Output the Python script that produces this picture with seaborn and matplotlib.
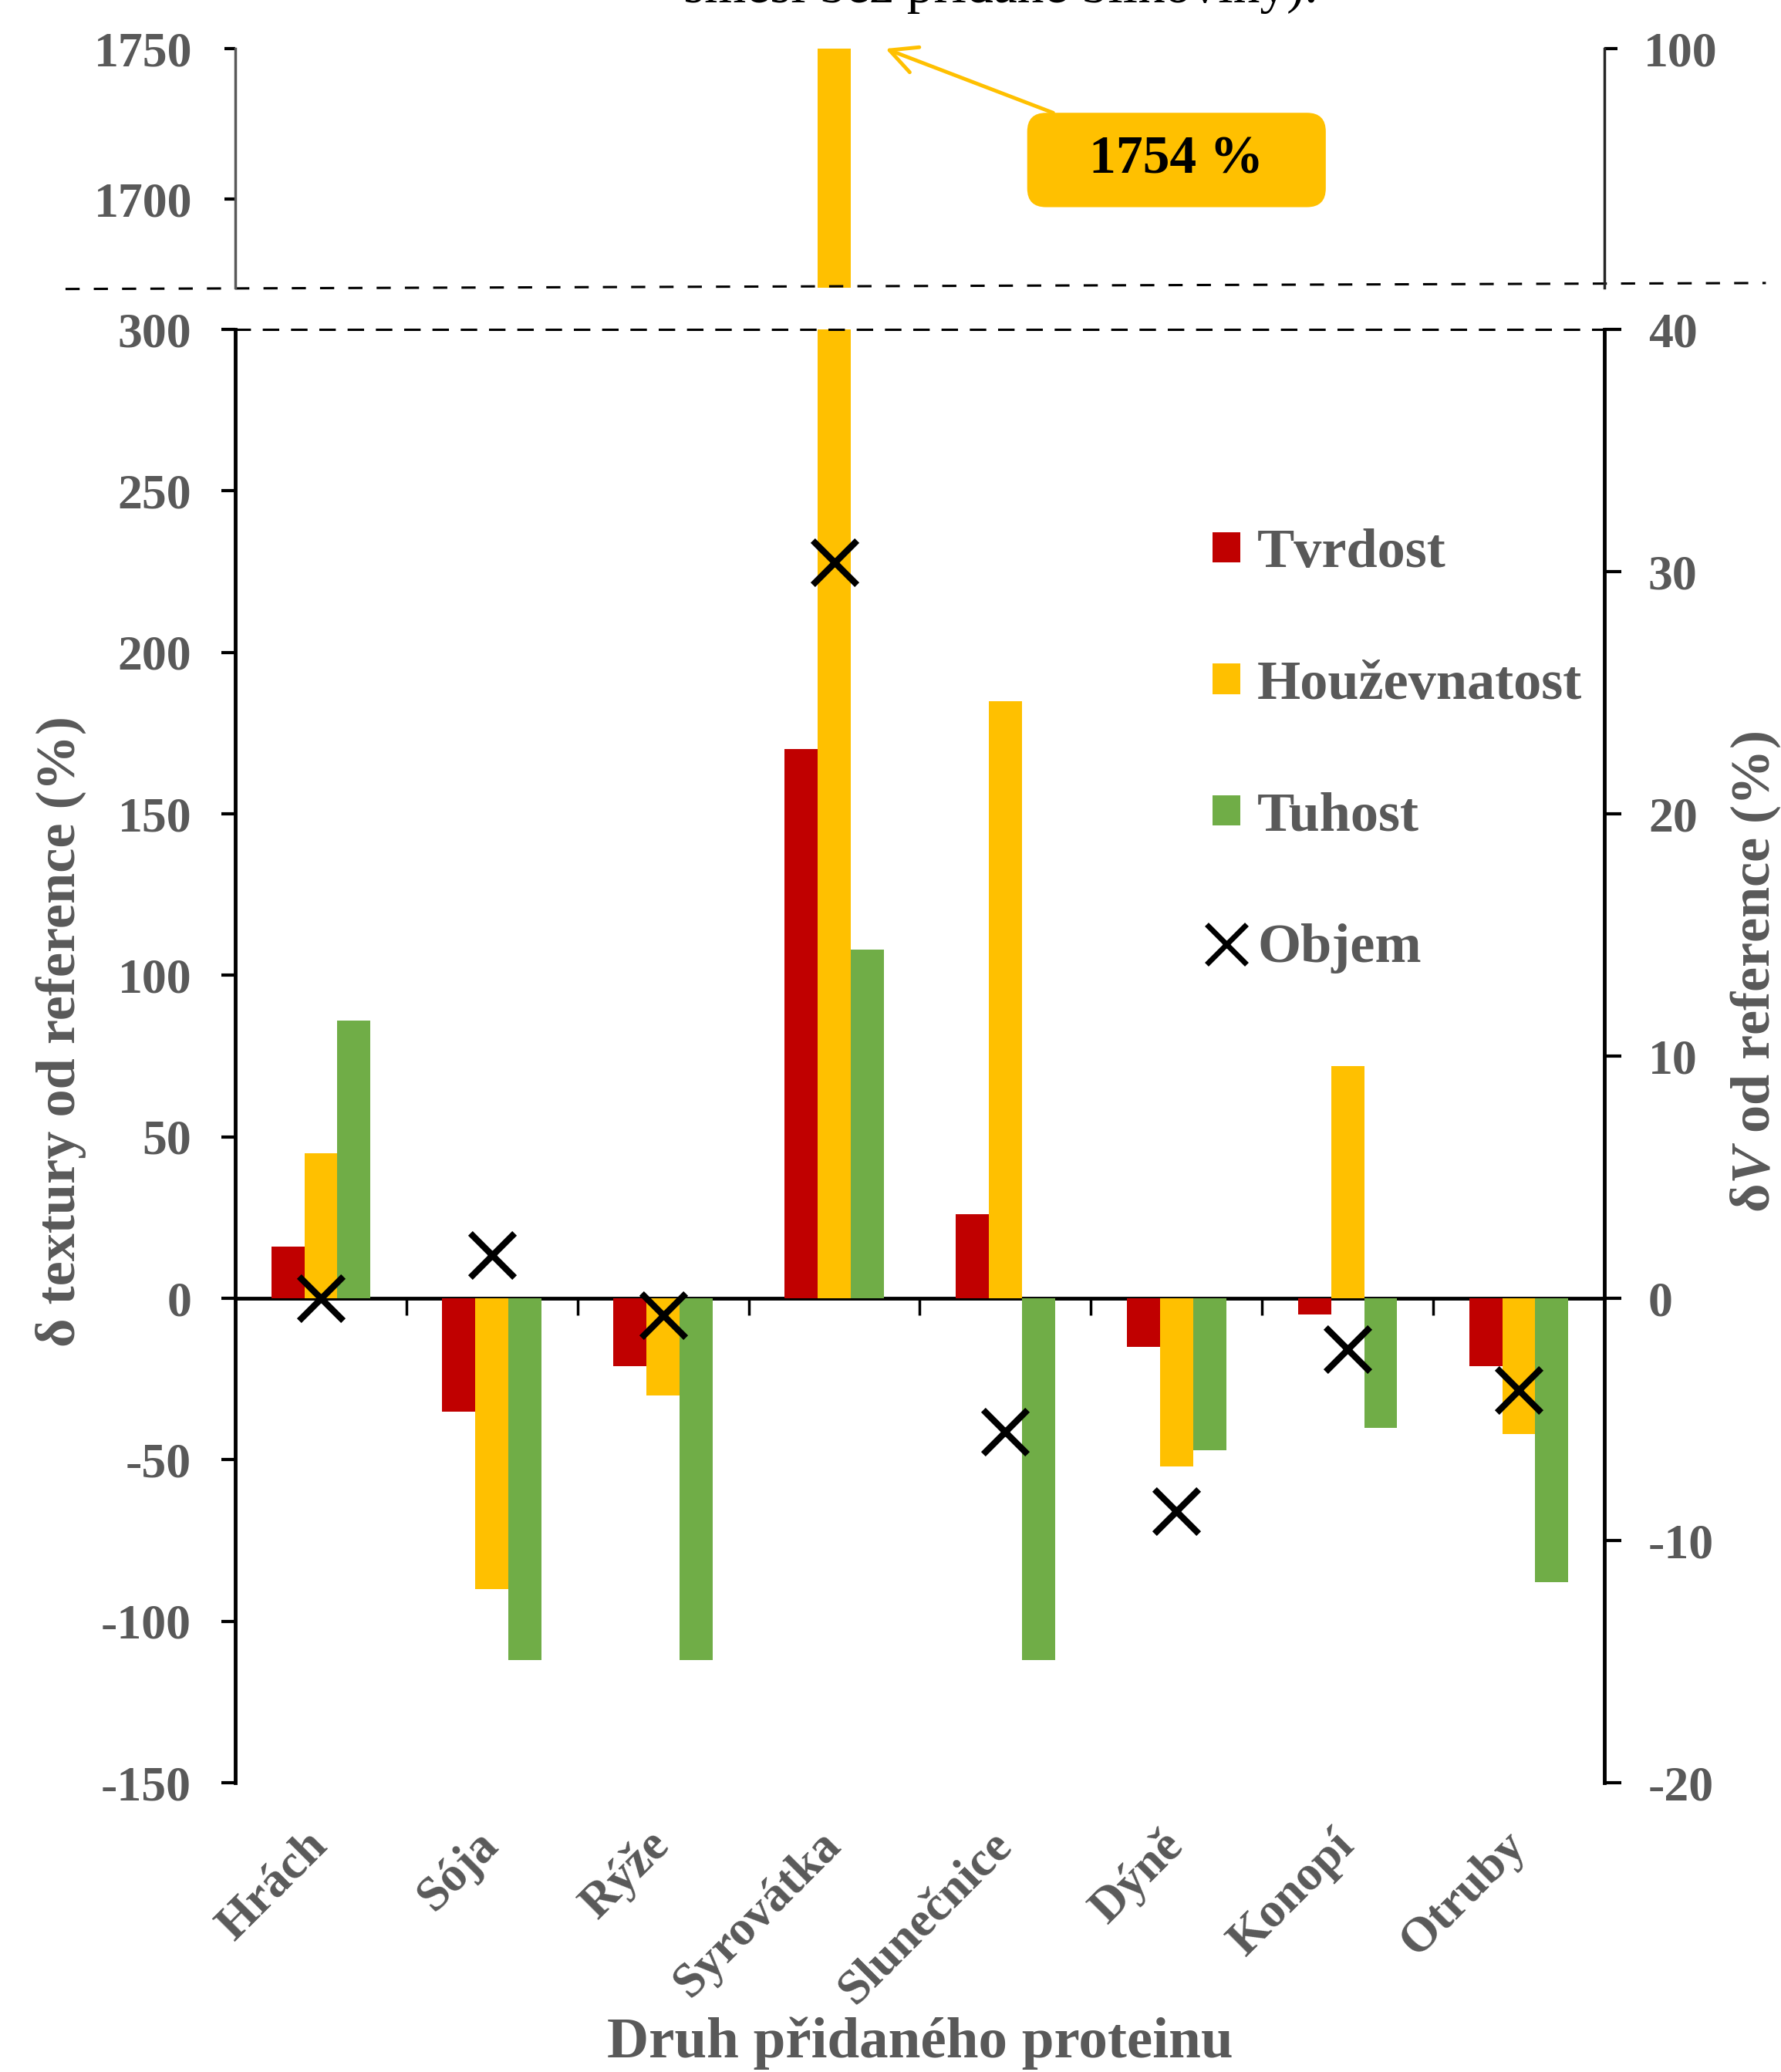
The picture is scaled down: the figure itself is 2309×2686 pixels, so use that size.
import numpy as np
import pandas as pd
import seaborn as sns
import matplotlib
matplotlib.use("Agg")
import matplotlib.pyplot as plt
from matplotlib.lines import Line2D
from matplotlib.patches import Patch, BoxStyle

# data
categories = ["Hrách", "Sója", "Rýže", "Syrovátka", "Slunečnice", "Dýně", "Konopí", "Otruby"]
series_names = ["Tvrdost", "Houževnatost", "Tuhost"]
tvrdost = [16, -35, -21, 170, 26, -15, -5, -21]
houzevnatost = [45, -90, -30, 1754, 185, -52, 72, -42]
tuhost = [86, -112, -112, 108, -112, -47, -40, -88]
objem = [0.0, 1.8, -0.7, 30.4, -5.5, -8.8, -2.1, -3.8]

left_ticks = [-150, -100, -50, 0, 50, 100, 150, 200, 250, 300]
right_ticks = [-20, -10, 0, 10, 20, 30, 40]
top_left_ticks = [1700, 1750]
top_right_ticks = [100]

colors = ["#C00000", "#FFC000", "#70AD47"]
grey = "#595959"

sns.set_style("ticks")
plt.rcParams["font.family"] = ["Liberation Serif", "DejaVu Serif"]
plt.rcParams["font.weight"] = "bold"
plt.rcParams["axes.labelweight"] = "bold"
plt.rcParams["axes.unicode_minus"] = False
plt.rcParams["mathtext.fontset"] = "custom"
plt.rcParams["mathtext.rm"] = "Liberation Serif:bold"
plt.rcParams["mathtext.it"] = "Liberation Serif:italic:bold"
plt.rcParams["mathtext.bf"] = "Liberation Serif:bold"

df = pd.DataFrame({
    "Protein": categories * 3,
    "Parametr": np.repeat(series_names, len(categories)),
    "Hodnota": tvrdost + houzevnatost + tuhost,
})

fig = plt.figure(figsize=(23.09, 26.86), dpi=100)
ax = fig.add_axes([0.1321, 0.1396, 0.7687, 0.7014])
ax_top = fig.add_axes([0.1321, 0.8611, 0.7687, 0.1154])

for a in (ax, ax_top):
    sns.barplot(data=df, x="Protein", y="Hodnota", hue="Parametr", palette=colors,
                width=0.58, saturation=1, linewidth=0, errorbar=None, ax=a, legend=False)
    a.set_xlim(-0.5, len(categories) - 0.5)
    a.set_xlabel("")
    a.set_ylabel("")

# ---- lower (main) axes
ax.set_ylim(left_ticks[0], left_ticks[-1])
ax.set_yticks(left_ticks)
ax.set_xticks(range(len(categories)))
ax.set_xticklabels(categories, rotation=45, ha="right", va="center", rotation_mode="anchor")
ax.tick_params(axis="x", length=0, pad=52, labelsize=46, labelcolor=grey)
ax.tick_params(axis="y", direction="out", length=13, width=3, pad=28, labelsize=46,
               labelcolor=grey, color="black")
ax.spines["bottom"].set_visible(False)
ax.spines["right"].set_visible(False)
ax.spines["left"].set_linewidth(3.5)
ax.spines["left"].set_color("black")
ax.spines["top"].set_linestyle((0, (6, 6)))
ax.spines["top"].set_linewidth(2.2)
ax.spines["top"].set_color("black")
ax.set_ylabel("δ textury od reference (%)", fontsize=52, color=grey, labelpad=14)
ax.yaxis.label.set_y(0.517)
ax.set_xlabel("Druh přidaného proteinu", fontsize=54, color=grey, labelpad=4)

# zero line with category separators
sec = ax.secondary_xaxis(0, transform=ax.transData)
sec.set_xticks(np.arange(len(categories) - 1) + 0.5)
sec.tick_params(axis="x", direction="out", length=16, width=2.5, color="black", labelbottom=False)
sec.spines["bottom"].set_linewidth(3.5)
sec.spines["bottom"].set_color("black")

ax2 = ax.twinx()
sns.scatterplot(x=np.arange(len(categories)), y=objem, marker="x", s=1700, color="black",
                linewidth=6, ax=ax2, zorder=5, legend=False)
ax2.set_xlim(-0.5, len(categories) - 0.5)
ax2.set_ylim(right_ticks[0], right_ticks[-1])
ax2.set_yticks(right_ticks)
ax2.tick_params(axis="y", direction="out", length=16, width=3, pad=25, labelsize=46,
                labelcolor=grey, color="black")
for s in ("top", "bottom", "left"):
    ax2.spines[s].set_visible(False)
ax2.spines["right"].set_linewidth(3.5)
ax2.spines["right"].set_color("black")
ax2.set_ylabel("δ$\\mathit{V}$ od reference (%)", fontsize=52, color=grey, labelpad=14)
ax2.yaxis.label.set_y(0.558)

handles = [Patch(facecolor=c, edgecolor="none") for c in colors]
handles.append(Line2D([], [], marker="x", ls="none", color="black", markersize=38, markeredgewidth=5))
ax2.legend(handles, series_names + ["Objem"], loc="upper left", bbox_to_anchor=(0.714, 0.863),
           frameon=False, prop=dict(family="Liberation Serif", weight="bold", size=52),
           labelcolor=grey, handlelength=0.5, handleheight=0.46, labelspacing=1.46,
           handletextpad=0.3, borderpad=0, borderaxespad=0)

# ---- upper (broken) axes
ax_top.set_ylim(1670.5, top_left_ticks[-1])
ax_top.set_yticks(top_left_ticks)
ax_top.tick_params(axis="x", length=0, labelbottom=False)
ax_top.tick_params(axis="y", direction="out", length=10, width=3, pad=30, labelsize=46,
                   labelcolor=grey, color="black")
for s in ("top", "bottom", "right"):
    ax_top.spines[s].set_visible(False)
ax_top.spines["left"].set_linewidth(2.5)
ax_top.spines["left"].set_color(grey)

ax_top2 = ax_top.twinx()
ax_top2.set_ylim(90, top_right_ticks[-1])
ax_top2.set_yticks(top_right_ticks)
ax_top2.tick_params(axis="y", direction="out", length=12, width=3, pad=25, labelsize=46,
                    labelcolor=grey, color="black")
for s in ("top", "bottom", "left"):
    ax_top2.spines[s].set_visible(False)
ax_top2.spines["right"].set_linewidth(2.5)
ax_top2.spines["right"].set_color("#262626")

# axis break line
ax_top.add_line(Line2D([-0.124, 1.118], [-0.005, 0.02], transform=ax_top.transAxes, clip_on=False,
                       ls=(0, (6, 6)), lw=2.2, color="black"))


def wide_round(x0, y0, width, height, mutation_size):
    ext = 0.74 * mutation_size
    return BoxStyle.Round(pad=0.42, rounding_size=0.35)(x0 - ext, y0, width + 2 * ext, height, mutation_size)


peak_i = int(np.argmax(houzevnatost))
ax_top.annotate(f"{houzevnatost[peak_i]} %", xy=(peak_i + 0.3, top_left_ticks[-1]),
                xytext=(peak_i + 2.0, 1713), ha="center", va="center",
                fontsize=50, fontweight="bold", color="black",
                bbox=dict(boxstyle=wide_round, fc="#FFC000", ec="none"),
                arrowprops=dict(arrowstyle="->,head_length=0.5,head_width=0.25", color="#FFC000",
                                lw=3.5, shrinkA=0, shrinkB=0))

# caption line cut off at the top of the image
fig.text(0.562, 1 - 3 / 2686, "směsí bez přidané bílkoviny).", ha="center", va="baseline",
         fontsize=50, fontweight="normal", color="black")

fig.savefig("out.png", dpi=100)
